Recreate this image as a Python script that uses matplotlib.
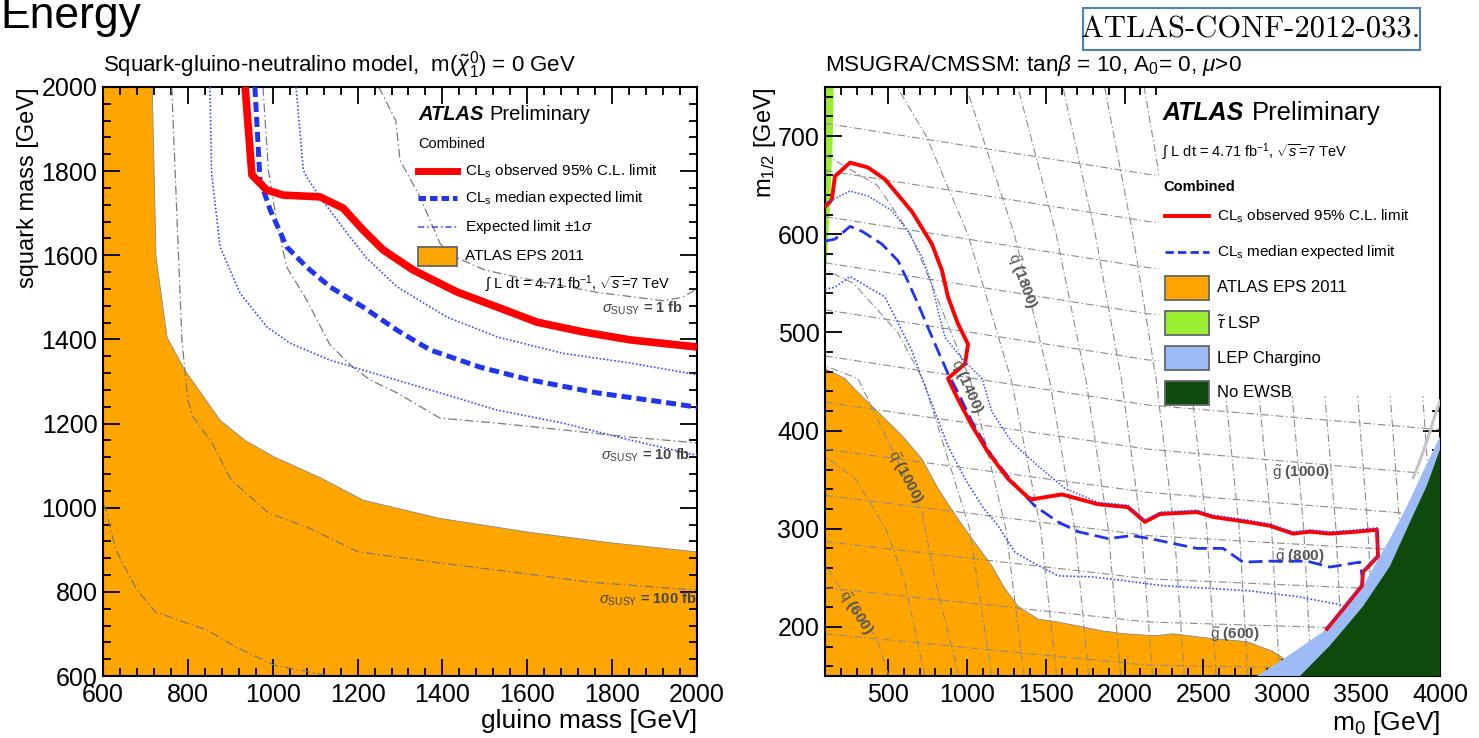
import matplotlib
matplotlib.use("Agg")
import matplotlib.pyplot as plt
from matplotlib.patches import Rectangle
from matplotlib.lines import Line2D
from matplotlib.ticker import MultipleLocator

plt.rcParams['font.family'] = ['Liberation Sans', 'DejaVu Sans']
plt.rcParams['mathtext.fontset'] = 'custom'
plt.rcParams['mathtext.rm'] = 'Liberation Sans'
plt.rcParams['mathtext.it'] = 'Liberation Sans:italic'
plt.rcParams['mathtext.bf'] = 'Liberation Sans:bold'

ORANGE, RED, BLUE, DOT, GRAY = '#ffa500', '#ff0000', '#1f35ee', '#3a4cff', '#7a7a7a'
DASHDOT = (0, (7, 2.5, 1.2, 2.5))

# ---------------- left panel: squark-gluino-neutralino (gluino, squark) [GeV]
eps_gl = [600, 716, 725, 751, 793, 876, 935, 1003, 1113, 1213, 1392, 1602, 1802, 2000, 2000, 600]
eps_sq = [2000, 2000, 1596, 1405, 1327, 1208, 1160, 1121, 1071, 1018, 975, 942, 916, 895, 600, 600]

obs_gl = [935, 951, 986, 1025, 1111, 1166, 1213, 1260, 1331, 1434, 1529, 1623, 1731, 1842, 2000]
obs_sq = [2000, 1791, 1755, 1743, 1739, 1712, 1660, 1613, 1565, 1513, 1477, 1441, 1418, 1399, 1382]

exp_gl = [958, 970, 994, 1033, 1080, 1135, 1213, 1293, 1371, 1489, 1606, 1764, 1920, 2000]
exp_sq = [2000, 1779, 1708, 1620, 1572, 1525, 1477, 1422, 1375, 1334, 1304, 1273, 1251, 1239]

up_gl = [1055, 1072, 1080, 1111, 1175, 1220, 1293, 1411, 1529, 1684, 1842, 2000]
up_sq = [2000, 1803, 1786, 1739, 1653, 1595, 1525, 1453, 1406, 1367, 1344, 1316]

dn_gl = [852, 856, 876, 923, 986, 1041, 1135, 1213, 1371, 1529, 1684, 1842, 1967, 2000]
dn_sq = [2000, 1795, 1620, 1510, 1430, 1391, 1351, 1327, 1280, 1232, 1201, 1161, 1132, 1125]

xs1_gl = [1250, 1290, 1300, 1347, 1394, 1420, 1500, 1576, 1764, 1920, 1965, 2000]
xs1_sq = [2000, 1920, 1826, 1739, 1629, 1600, 1565, 1548, 1512, 1492, 1500, 1520]
xs10_gl = [977, 990, 1010, 1033, 1080, 1135, 1189, 1229, 1293, 1394, 1529, 1684, 1842, 2000]
xs10_sq = [2000, 1800, 1677, 1572, 1494, 1387, 1334, 1304, 1273, 1213, 1201, 1185, 1168, 1154]
xs100_gl = [762, 786, 800, 812, 857, 902, 991, 1080, 1202, 1392, 1581, 1748, 2000]
xs100_sq = [2000, 1398, 1256, 1216, 1154, 1066, 987, 954, 895, 869, 845, 823, 804]
xs1000_gl = [600, 607, 630, 680, 724, 846, 913, 1003, 1135]
xs1000_sq = [1010, 994, 900, 804, 752, 709, 669, 626, 600]

# ---------------- right panel: mSUGRA (m0, m1/2) [GeV]
eps_m0 = [100, 100, 227, 309, 436, 588, 715, 817, 943, 1032, 1159, 1241, 1324, 1451, 1578, 1704,
          1857, 2002, 2193, 2307, 2561, 2776, 2941, 3017, 3100, 100]
eps_m12 = [150, 463, 453, 439, 419, 395, 371, 341, 310, 290, 262, 239, 221, 208, 205, 201,
           196, 193, 191, 193, 188, 185, 175, 167, 150, 150]

stau_m0 = [100, 155, 150, 135, 115, 100]
stau_m12 = [750, 750, 700, 640, 580, 555]

lep_m0 = [2839, 3004, 3258, 3512, 3683, 3790, 3892, 4000, 4000]
lep_m12 = [150, 167, 195, 242, 290, 323, 358, 394, 150]
ewsb_m0 = [3112, 3302, 3512, 3683, 3810, 3917, 4000, 4000]
ewsb_m12 = [150, 181, 221, 262, 307, 344, 381, 150]
edge_m0 = [3830, 3870, 3905, 3935, 3965, 4000]
edge_m12 = [352, 368, 384, 398, 414, 430]

r_obs_m0 = [100, 132, 144, 163, 259, 373, 480, 652, 778, 842, 880, 943, 1007, 988, 893, 880, 943,
            1032, 1134, 1260, 1387, 1413, 1603, 1831, 2021, 2129, 2224, 2459, 2561, 2776, 2922,
            3068, 3176, 3302, 3473, 3600, 3607, 3512, 3505, 3385, 3283]
r_obs_m12 = [628, 633, 636, 659, 673, 668, 656, 623, 590, 563, 536, 509, 488, 468, 455, 453, 432,
             405, 378, 351, 332, 330, 335, 325, 322, 307, 315, 317, 312, 307, 303,
             295, 297, 295, 297, 299, 272, 256, 242, 218, 198]

r_exp_m0 = [100, 163, 259, 335, 461, 563, 626, 690, 753, 817, 880, 943, 1032, 1159, 1286, 1432,
            1578, 1704, 1895, 2047, 2161, 2307, 2459, 2624, 2751, 2922, 3156, 3302, 3492, 3512]
r_exp_m12 = [593, 595, 608, 603, 590, 573, 552, 529, 505, 481, 458, 439, 409, 374, 348, 323,
             307, 297, 290, 293, 290, 285, 280, 280, 266, 267, 267, 261, 266, 246]

r_up_m0 = [100, 119, 259, 373, 525, 626, 715, 778, 817, 861, 960, 1040, 1096, 1159, 1286, 1451,
           1622, 1831, 2021, 2129, 2224, 2459, 2561, 2776, 2922, 3068, 3176, 3302, 3473, 3600,
           3607, 3512, 3505, 3385, 3283]
r_up_m12 = [630, 633, 644, 639, 624, 603, 577, 549, 522, 495, 475, 462, 453, 419, 388, 364,
            341, 327, 324, 309, 317, 319, 314, 309, 305, 297, 299, 297, 299, 301,
            273, 257, 243, 219, 199]

r_dn_m0 = [100, 163, 259, 480, 544, 652, 715, 797, 880, 988, 1096, 1197, 1305, 1413, 1578, 1793,
           2002, 2243, 2561, 2776, 3093, 3385]
r_dn_m12 = [544, 546, 557, 536, 516, 481, 453, 419, 384, 351, 323, 303, 276, 266, 252, 251,
            247, 242, 239, 237, 231, 222]

# theory grid: gluino mass contours (straight pieces) and squark mass contours
glu_m0 = [100, 2150, 4000]
glu_at100 = [713, 665, 618, 571, 523, 476, 429, 381, 334, 287, 240, 193]
glu_at2150 = [661, 613, 566, 519, 472, 426, 381, 337, 293, 249, 205, 161]
glu_at4000 = [632, 585, 539, 493, 447, 401, 355, 313, 276, 236, 196, 156]

sq_levels = [150, 300, 450, 600, 750]
sq_low_m0 = [[505, 424, 290, 100],
             [734, 599, 485, 298, 100],
             [948, 797, 715, 525, 309, 100],
             [1157, 1017, 727, 561, 281, 100],
             [1363, 1247, 1024, 774, 642, 431, 100],
             [1568, 1468, 1284, 1006, 742, 557]]
sq_low_m12 = [[150, 190, 215, 264],
              [150, 250, 300, 350, 374],
              [150, 249, 317, 381, 453, 466],
              [150, 300, 450, 500, 550, 564],
              [150, 300, 450, 550, 600, 650, 681],
              [150, 300, 450, 600, 700, 750]]
sq_high_m0 = [[1772, 1684, 1526, 1301, 995],
              [1975, 1896, 1757, 1566, 1323],
              [2177, 2106, 1982, 1814, 1609],
              [2379, 2314, 2202, 2052, 1873],
              [2580, 2521, 2418, 2283, 2124],
              [2782, 2727, 2632, 2508, 2364],
              [2983, 2932, 2844, 2730, 2598],
              [3184, 3136, 3054, 2948, 2827],
              [3385, 3340, 3263, 3164, 3051],
              [3586, 3543, 3471, 3378, 3273],
              [3787, 3746, 3678, 3591, 3491],
              [3987, 3949, 3884, 3802, 3708]]

W, H = 1479, 738
fig = plt.figure(figsize=(W / 100, H / 100), dpi=100)
fx = lambda px: px / W
fy = lambda py: 1 - py / H


def root_style(ax, xmaj, xmin, ymaj, ymin):
    ax.xaxis.set_major_locator(MultipleLocator(xmaj))
    ax.xaxis.set_minor_locator(MultipleLocator(xmin))
    ax.yaxis.set_major_locator(MultipleLocator(ymaj))
    ax.yaxis.set_minor_locator(MultipleLocator(ymin))
    ax.tick_params(which='both', direction='in', top=True, right=True, labelsize=18, width=1.3)
    ax.tick_params(which='major', length=12)
    ax.tick_params(which='minor', length=6)
    ax.tick_params(axis='x', pad=5)
    ax.tick_params(axis='y', pad=4)
    for s in ax.spines.values():
        s.set_linewidth(1.5)


def legline(x0, x1, y, **kw):
    fig.add_artist(Line2D([fx(x0), fx(x1)], [fy(y), fy(y)], transform=fig.transFigure, **kw))


def legbox(x0, y0, x1, y1, color):
    fig.add_artist(Rectangle((fx(x0), fy(y1)), fx(x1 - x0), (y1 - y0) / H, transform=fig.transFigure,
                             facecolor=color, edgecolor='#666666', lw=1.3))


# ---- left panel
ax1 = fig.add_axes([fx(103), fy(676), fx(594), 589 / H])
ax1.fill(eps_gl, eps_sq, color=ORANGE, ec='#888888', lw=0.6, zorder=1)
for gx, gy in [(xs1_gl, xs1_sq), (xs10_gl, xs10_sq), (xs100_gl, xs100_sq), (xs1000_gl, xs1000_sq)]:
    ax1.plot(gx, gy, color=GRAY, lw=0.9, ls=DASHDOT, zorder=2)
ax1.plot(up_gl, up_sq, color=DOT, lw=1.2, ls=(0, (1, 1.2)), zorder=3)
ax1.plot(dn_gl, dn_sq, color=DOT, lw=1.2, ls=(0, (1, 1.2)), zorder=3)
ax1.plot(exp_gl, exp_sq, color=BLUE, lw=3.6, ls=(0, (2, 1)), zorder=4)
ax1.plot(obs_gl, obs_sq, color=RED, lw=5.5, zorder=5, solid_capstyle='butt')
ax1.set_xlim(600, 2000)
ax1.set_ylim(600, 2000)
root_style(ax1, 200, 40, 200, 40)

fig.text(fx(103), fy(65), r"Squark-gluino-neutralino model,  m($\tilde{\chi}^{0}_{1}$) = 0 GeV",
         fontsize=16, va='center', ha='left')
fig.text(fx(28), fy(87), "squark mass [GeV]", rotation=90, fontsize=17, ha='center', va='top')
fig.text(fx(697), fy(721), "gluino mass [GeV]", fontsize=19, ha='right', va='center')

fig.text(fx(418), fy(115), "ATLAS", fontsize=14.5, fontweight='bold', fontstyle='italic', va='center')
fig.text(fx(489), fy(115), "Preliminary", fontsize=14.5, va='center')
fig.text(fx(418), fy(144), "Combined", fontsize=10.5, va='center')
legline(418, 457, 171, color=RED, lw=5)
fig.text(fx(465), fy(171), r"CL$_{\rm s}$ observed 95% C.L. limit", fontsize=11, va='center')
legline(418, 457, 198, color=BLUE, lw=3.6, ls=(0, (1.5, 0.8)))
fig.text(fx(465), fy(198), r"CL$_{\rm s}$ median expected limit", fontsize=11, va='center')
legline(418, 457, 227, color=DOT, lw=1.1, ls=(0, (4, 2, 1, 2)))
fig.text(fx(465), fy(227), r"Expected limit $\pm$1$\sigma$", fontsize=11, va='center')
legbox(418, 247, 457, 266, ORANGE)
fig.text(fx(465), fy(256), "ATLAS EPS 2011", fontsize=11, va='center')
fig.text(fx(485), fy(284), r"$\int$ L dt = 4.71 fb$^{-1}$, $\sqrt{s}$=7 TeV", fontsize=10.5, va='center')
sig = dict(fontsize=10.5, ha='right', va='center', color='#444444', fontweight='bold')
fig.text(fx(683), fy(308), r"$\sigma_{\rm SUSY}$ = 1 fb", **sig)
fig.text(fx(690), fy(455), r"$\sigma_{\rm SUSY}$ = 10 fb", **sig)
fig.text(fx(696), fy(599), r"$\sigma_{\rm SUSY}$ = 100 fb", **sig)

# ---- right panel
ax2 = fig.add_axes([fx(825), fy(676), fx(615), 589 / H])
ax2.fill(eps_m0, eps_m12, color=ORANGE, ec='#888888', lw=0.6, zorder=1)
ax2.fill(stau_m0, stau_m12, color='#99ee33', lw=0, zorder=1)
for a, b, c in zip(glu_at100, glu_at2150, glu_at4000):
    ax2.plot(glu_m0, [a, b, c], color='#8c8c8c', lw=0.8, ls=DASHDOT, zorder=2)
for xs, ys in zip(sq_low_m0, sq_low_m12):
    ax2.plot(xs, ys, color='#8c8c8c', lw=0.8, ls=DASHDOT, zorder=2)
for xs in sq_high_m0:
    ax2.plot(xs, sq_levels, color='#8c8c8c', lw=0.8, ls=DASHDOT, zorder=2)
# legend sits on a white pad
ax2.add_patch(Rectangle((2220, 435), 1780, 315, facecolor='white', lw=0, zorder=2.5))
ax2.plot(edge_m0, edge_m12, color='#c4c4c4', lw=2.2, zorder=2.6)
ax2.fill(lep_m0, lep_m12, color='#9dbcf7', lw=0, zorder=3)
ax2.fill(ewsb_m0, ewsb_m12, color='#0f4a0c', lw=0, zorder=3)
ax2.plot(r_dn_m0, r_dn_m12, color=DOT, lw=1.2, ls=(0, (1, 1.2)), zorder=4)
ax2.plot(r_exp_m0, r_exp_m12, color=BLUE, lw=2.0, ls=(0, (5, 2.2)), zorder=5)
ax2.plot(r_obs_m0, r_obs_m12, color=RED, lw=2.8, zorder=6)
ax2.plot(r_up_m0, r_up_m12, color=DOT, lw=1.1, ls=(0, (1, 1.2)), zorder=7)
ax2.set_xlim(100, 4000)
ax2.set_ylim(150, 750)
root_style(ax2, 500, 100, 100, 20)

lab = dict(fontsize=11, color='#555555', ha='center', va='center', zorder=8, fontweight='bold')
ax2.text(290, 215, r"$\mathrm{\tilde{q}}$ (600)", rotation=-57, **lab)
ax2.text(607, 352, r"$\mathrm{\tilde{q}}$ (1000)", rotation=-62, **lab)
ax2.text(1000, 445, r"$\mathrm{\tilde{q}}$ (1400)", rotation=-66, **lab)
ax2.text(1349, 552, r"$\mathrm{\tilde{q}}$ (1800)", rotation=-70, **lab)
ax2.text(3120, 357, r"$\mathrm{\tilde{g}}$ (1000)", **lab)
ax2.text(3110, 272, r"$\mathrm{\tilde{g}}$ (800)", **lab)
ax2.text(2700, 192, r"$\mathrm{\tilde{g}}$ (600)", **lab)

fig.text(fx(825), fy(65), r"MSUGRA/CMSSM: tan$\beta$ = 10, A$_0$= 0, $\mu$>0", fontsize=16.2, va='center')
fig.text(fx(765), fy(87), r"m$_{1/2}$ [GeV]", rotation=90, fontsize=17, ha='center', va='top')
fig.text(fx(1440), fy(723), r"m$_0$ [GeV]", fontsize=19, ha='right', va='center')

fig.text(fx(1163), fy(113), "ATLAS", fontsize=18, fontweight='bold', fontstyle='italic', va='center')
fig.text(fx(1252), fy(113), "Preliminary", fontsize=18.5, va='center')
fig.text(fx(1162), fy(152), r"$\int$ L dt = 4.71 fb$^{-1}$, $\sqrt{s}$=7 TeV", fontsize=10.5, va='center')
fig.text(fx(1163), fy(187), "Combined", fontsize=10.5, fontweight='bold', va='center')
legline(1165, 1209, 216, color=RED, lw=2.8)
fig.text(fx(1217), fy(216), r"CL$_{\rm s}$ observed 95% C.L. limit", fontsize=11, va='center')
legline(1165, 1209, 252, color=BLUE, lw=2.0, ls=(0, (3, 1.5)))
fig.text(fx(1217), fy(252), r"CL$_{\rm s}$ median expected limit", fontsize=11, va='center')
for (y0, y1, col, txt) in [(276, 300, ORANGE, "ATLAS EPS 2011"),
                           (311, 335, '#99ee33', r"$\tilde{\tau}$ LSP"),
                           (346, 370, '#9dbcf7', "LEP Chargino"),
                           (381, 405, '#0f4a0c', "No EWSB")]:
    legbox(1165, y0, 1209, y1, col)
    fig.text(fx(1217), fy((y0 + y1) / 2), txt, fontsize=12, va='center')

# ---- slide decorations
fig.text(fx(0), fy(28), "Energy", fontsize=32, va='baseline', ha='left')
fig.add_artist(Rectangle((fx(1083), fy(50)), fx(337), 42 / H, transform=fig.transFigure,
                         facecolor='none', edgecolor='#4f81bd', lw=1.5))
fig.text(fx(1251), fy(30), "ATLAS-CONF-2012-033.", fontsize=22, family=['cmr10', 'DejaVu Serif'],
         ha='center', va='center')

fig.savefig("out.png", dpi=100)
